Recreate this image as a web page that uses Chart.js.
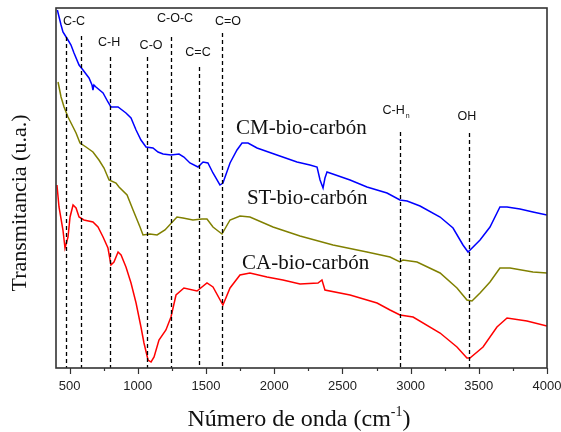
<!DOCTYPE html>
<html>
<head>
<meta charset="utf-8">
<script src="https://cdn.jsdelivr.net/npm/chart.js@4.4.1/dist/chart.umd.min.js"></script>
<style>
  body { margin: 0; background: #fff; }
</style>
</head>
<body>
<canvas id="ftir" width="561" height="432"></canvas>
<script>
// espectros FTIR (unidades arbitrarias)
var cmX = [410, 437, 451, 488, 510, 532, 569, 598, 642, 664, 671, 678, 693, 745, 781, 803, 855, 913, 950, 987, 1023, 1060, 1111, 1148, 1185, 1243, 1302, 1338, 1382, 1441, 1478, 1514, 1551, 1602, 1624, 1676, 1727, 1764, 1808, 1874, 2020, 2167, 2262, 2314, 2336, 2358, 2372, 2387, 2556, 2680, 2827, 2922, 2974, 3069, 3216, 3311, 3384, 3421, 3509, 3582, 3655, 3707, 3802, 3897, 4000];
var cmY = [358, 343, 336, 328, 323, 315, 303, 298, 290, 283, 278, 283, 281, 275, 266, 261, 261, 255, 250, 238, 228, 221, 220, 216, 214, 213, 214, 211, 205, 201, 206, 205, 195, 183, 185, 205, 218, 225, 225, 220, 213, 206, 203, 201, 188, 180, 190, 196, 188, 181, 175, 168, 167, 162, 151, 140, 123, 116, 128, 141, 161, 161, 159, 156, 153];

var stX = [415, 437, 459, 488, 525, 547, 576, 620, 671, 715, 752, 789, 840, 862, 921, 965, 1016, 1038, 1089, 1141, 1199, 1287, 1331, 1404, 1470, 1507, 1551, 1617, 1676, 1749, 1822, 1991, 2189, 2431, 2680, 2849, 2922, 2944, 3047, 3216, 3340, 3413, 3450, 3509, 3582, 3655, 3729, 3897, 4000];
var stY = [286, 271, 261, 251, 241, 235, 225, 221, 216, 208, 200, 188, 185, 181, 173, 158, 141, 133, 134, 133, 138, 151, 150, 148, 149, 149, 141, 134, 148, 152, 151, 141, 132, 123, 116, 111, 106, 108, 106, 95, 80, 68, 67, 75, 86, 100, 100, 96, 95];

var caX = [407, 422, 451, 466, 488, 503, 525, 547, 569, 605, 671, 708, 745, 781, 803, 825, 855, 877, 913, 950, 987, 1023, 1045, 1075, 1097, 1119, 1155, 1206, 1243, 1280, 1338, 1434, 1507, 1551, 1624, 1676, 1749, 1822, 1947, 2064, 2189, 2321, 2350, 2372, 2556, 2754, 2849, 2922, 3018, 3216, 3340, 3413, 3435, 3531, 3633, 3707, 3853, 4000];
var caY = [183, 161, 138, 120, 131, 151, 163, 160, 151, 148, 146, 141, 131, 120, 103, 106, 116, 113, 101, 85, 65, 41, 25, 8, 6, 11, 28, 38, 51, 73, 80, 77, 85, 81, 63, 80, 93, 95, 91, 88, 84, 85, 88, 78, 73, 65, 58, 53, 51, 35, 21, 10, 10, 21, 41, 50, 47, 42];

// bandas marcadas con lineas discontinuas
var bandPos = [473, 581, 796, 1069, 1243, 1449, 1615, 2922, 3428];
var bandTop = [331, 332, 311, 311, 331, 301, 335, 236, 235];
var bandNames = ['C-C', 'C-H', 'C-O', 'C-O-C', 'C=C', 'C=O', 'C-H', 'OH'];
var bandNameX = [532, 789, 1097, 1273, 1441, 1661, 2875, 3413];
var bandNameY = [346, 325, 322, 349, 315, 346, 257, 251];

var seriesNames = ['CM-bio-carbón', 'ST-bio-carbón', 'CA-bio-carbón'];
var seriesColors = ['#0000ff', '#808000', '#ff0000'];

function pts(xs, ys) {
    var out = [];
    for (var i = 0; i < xs.length; i++) out.push({x: xs[i], y: ys[i]});
    return out;
}

var extras = {
    id: 'extras',
    afterDraw: function(chart) {
        var ctx = chart.ctx;
        var xs = chart.scales.x, ys = chart.scales.y, a = chart.chartArea;
        ctx.save();

        // lineas discontinuas
        ctx.strokeStyle = '#000';
        ctx.lineWidth = 1.3;
        ctx.setLineDash([4, 3]);
        for (var i = 0; i < bandPos.length; i++) {
            var px = Math.round(xs.getPixelForValue(bandPos[i])) + 0.5;
            ctx.beginPath();
            ctx.moveTo(px, ys.getPixelForValue(bandTop[i]));
            ctx.lineTo(px, a.bottom);
            ctx.stroke();
        }
        ctx.setLineDash([]);

        // etiquetas de bandas
        var lab = '12.5px "Liberation Sans", Arial, sans-serif';
        ctx.fillStyle = '#111';
        ctx.font = lab;
        ctx.textAlign = 'center';
        ctx.textBaseline = 'middle';
        for (var j = 0; j < bandNames.length; j++) {
            var lx = xs.getPixelForValue(bandNameX[j]);
            var ly = ys.getPixelForValue(bandNameY[j]);
            ctx.fillText(bandNames[j], lx, ly);
            if (j == 6) {
                var w = ctx.measureText(bandNames[j]).width;
                ctx.font = '7px "Liberation Sans", Arial, sans-serif';
                ctx.fillText('n', lx + w / 2 + 3, ly + 5);
                ctx.font = lab;
            }
        }

        // nombres de las muestras
        ctx.font = '21px "Liberation Serif", "Times New Roman", serif';
        ctx.textAlign = 'left';
        ctx.fillStyle = '#111';
        ctx.fillText(seriesNames[0], xs.getPixelForValue(1720), ys.getPixelForValue(240));
        ctx.fillText(seriesNames[1], xs.getPixelForValue(1800), ys.getPixelForValue(170));
        ctx.fillText(seriesNames[2], xs.getPixelForValue(1764), ys.getPixelForValue(105));

        // marco
        ctx.strokeStyle = '#333';
        ctx.lineWidth = 1.6;
        ctx.strokeRect(a.left, a.top, a.right - a.left, a.bottom - a.top);

        // marcas del eje x
        ctx.lineWidth = 1.2;
        xs.ticks.forEach(function(t) {
            var tx = Math.round(xs.getPixelForValue(t.value)) + 0.5;
            var len = (t.value % 500 == 0) ? 6 : 3;
            ctx.beginPath();
            ctx.moveTo(tx, a.bottom);
            ctx.lineTo(tx, a.bottom + len);
            ctx.stroke();
        });

        // titulo eje x con superindice
        ctx.fillStyle = '#111';
        ctx.textBaseline = 'alphabetic';
        var big = '24px "Liberation Serif", "Times New Roman", serif';
        var small = '14px "Liberation Serif", "Times New Roman", serif';
        ctx.font = big;
        var t1 = 'Número de onda (cm', t3 = ')';
        var w1 = ctx.measureText(t1).width, w3 = ctx.measureText(t3).width;
        ctx.font = small;
        var w2 = ctx.measureText('-1').width;
        var x0 = 299 - (w1 + w2 + w3) / 2;
        var by = 426;
        ctx.font = big;
        ctx.fillText(t1, x0, by);
        ctx.font = small;
        ctx.fillText('-1', x0 + w1, by - 10);
        ctx.font = big;
        ctx.fillText(t3, x0 + w1 + w2, by);

        // titulo eje y
        ctx.translate(20, 203);
        ctx.rotate(-Math.PI / 2);
        ctx.textAlign = 'center';
        ctx.textBaseline = 'middle';
        ctx.font = '22px "Liberation Serif", "Times New Roman", serif';
        ctx.fillText('Transmitancia (u.a.)', 0, 0);
        ctx.restore();
    }
};

var myChart = new Chart('ftir', {
    type: 'line',
    data: {
        datasets: [{
            label: seriesNames[0],
            data: pts(cmX, cmY),
            borderColor: seriesColors[0],
            borderWidth: 1.5,
            pointRadius: 0,
            tension: 0
        }, {
            label: seriesNames[1],
            data: pts(stX, stY),
            borderColor: seriesColors[1],
            borderWidth: 1.5,
            pointRadius: 0,
            tension: 0
        }, {
            label: seriesNames[2],
            data: pts(caX, caY),
            borderColor: seriesColors[2],
            borderWidth: 1.5,
            pointRadius: 0,
            tension: 0
        }]
    },
    options: {
        responsive: false,
        animation: false,
        layout: { padding: { left: 0, right: 14, top: 8, bottom: 0 } },
        plugins: {
            legend: { display: false },
            tooltip: { enabled: false }
        },
        scales: {
            x: {
                type: 'linear',
                min: 400,
                max: 4000,
                grid: { display: false },
                border: { display: false },
                ticks: {
                    stepSize: 250,
                    includeBounds: false,
                    autoSkip: false,
                    maxRotation: 0,
                    padding: 3,
                    color: '#222',
                    font: { family: '"Liberation Sans", Arial, sans-serif', size: 13 },
                    callback: function(v) { return (v % 500 == 0) ? v : ''; }
                },
                afterFit: function(s) {
                    s.height = 64;
                    s.paddingLeft = 0;
                    s.paddingRight = 0;
                }
            },
            y: {
                min: 0,
                max: 360,
                grid: { display: false },
                border: { display: false },
                ticks: { display: false },
                afterFit: function(s) { s.width = 56; }
            }
        }
    },
    plugins: [extras]
});
</script>
</body>
</html>
